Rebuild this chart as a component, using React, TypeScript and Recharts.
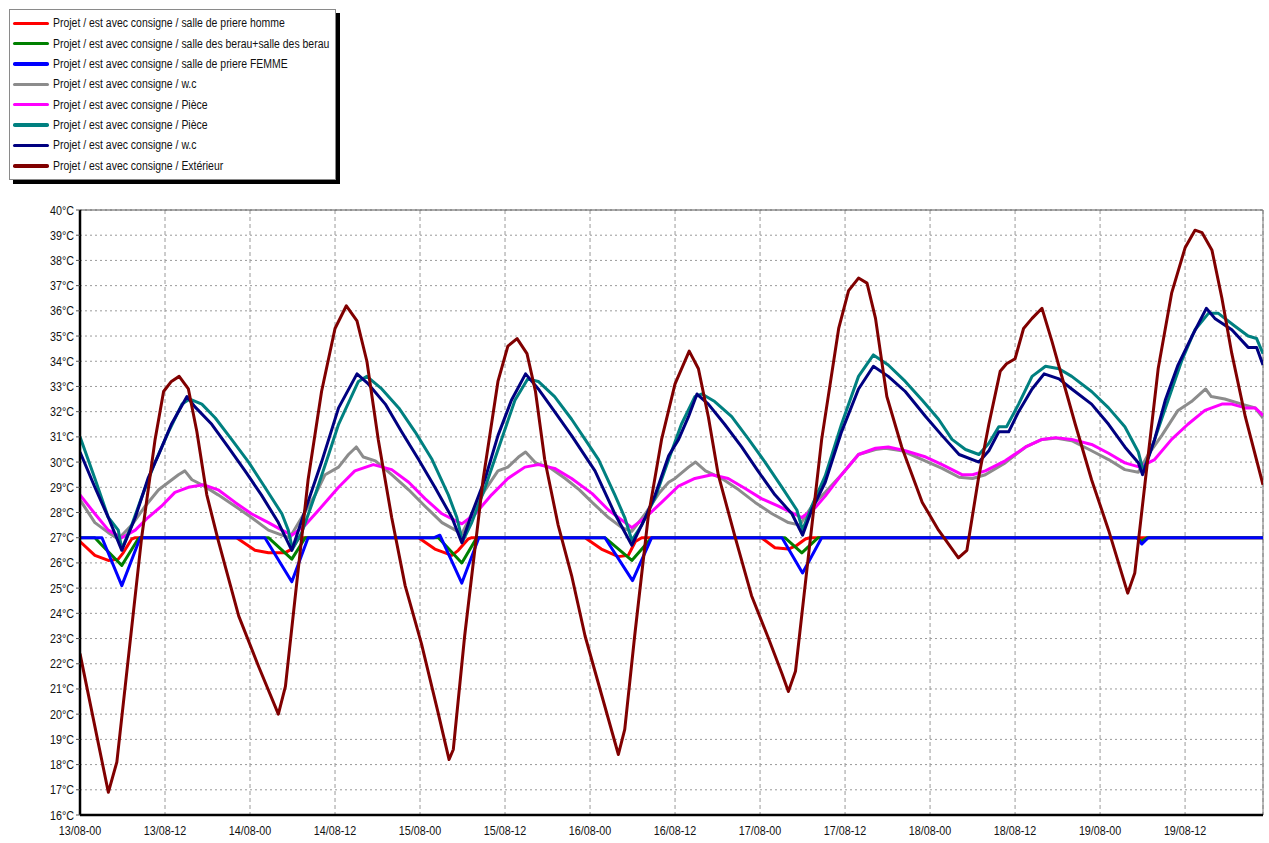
import React from "react";
import { LineChart, Line, XAxis, YAxis, CartesianGrid, ReferenceLine, Legend } from "recharts";

type Pt = [number, number];

// hours since 13/08 00:00 -> temperature (°C)
const priereHomme: Pt[] = [[0,26.85],[2.1,26.3],[4.0,26.1],[5.4,26.15],[6.1,26.4],[7.3,26.95],[7.8,27],[22.1,27],[24.7,26.5],[26.6,26.4],[28.9,26.4],[29.9,26.55],[30.8,26.95],[31.3,27],[47.8,27],[50.1,26.55],[52.5,26.3],[53.4,26.5],[54.8,26.95],[55.3,27],[71.3,27],[73.6,26.55],[76.0,26.25],[77.4,26.3],[78.4,26.85],[79.3,27],[96.2,27],[98.1,26.6],[100.0,26.55],[101.2,26.7],[102.4,26.95],[103,27],[167,27]];
const salleBerau: Pt[] = [[0,27],[2.1,27],[3.1,26.7],[5.9,25.9],[8.2,26.95],[8.5,27],[26.6,27],[29.9,26.15],[31.8,27],[50.6,27],[53.9,26.0],[56.0,27],[74.1,27],[77.9,26.1],[80.7,27],[99.5,27],[101.9,26.4],[104.2,27],[149.2,27],[149.8,26.85],[150.6,27],[167,27]];
const priereFemme: Pt[] = [[0,27],[3.1,27],[5.9,25.1],[8.5,27],[26.1,27],[29.9,25.25],[32.2,27],[50.0,27],[50.8,27.1],[53.9,25.2],[56.3,27],[74.1,27],[78.0,25.3],[80.7,27],[99.1,27],[102.0,25.6],[104.7,27],[149.2,27],[149.9,26.75],[150.8,27],[167,27]];
const wc1: Pt[] = [[0,28.5],[2.1,27.6],[4.0,27.2],[5.4,26.95],[7.3,27.5],[9.2,28.25],[11.1,28.9],[12.5,29.2],[13.9,29.5],[14.8,29.65],[15.8,29.3],[17.2,29.1],[19.5,28.7],[21.9,28.25],[24.2,27.8],[26.6,27.3],[28.5,27.1],[29.6,27.0],[31.3,27.8],[33.2,28.7],[34.6,29.5],[36.5,29.8],[37.9,30.3],[39.0,30.6],[40.0,30.2],[41.7,30.05],[44.0,29.5],[46.4,28.9],[48.7,28.25],[51.1,27.6],[53.0,27.3],[53.9,27.15],[55.3,27.95],[57.2,28.9],[59.0,29.65],[60.4,29.8],[61.9,30.2],[62.9,30.4],[64.3,29.97],[66.2,29.8],[68.5,29.35],[70.5,28.9],[72.3,28.4],[74.6,27.8],[76.5,27.4],[77.9,27.25],[79.8,27.95],[81.7,28.75],[83.1,29.2],[84.0,29.35],[85.9,29.8],[86.9,30.0],[88.3,29.65],[90.6,29.35],[93.0,28.9],[95.3,28.4],[97.7,27.95],[100.0,27.6],[101.6,27.5],[103.3,28.25],[105.2,28.8],[107.5,29.5],[109.9,30.3],[112.3,30.5],[113.7,30.55],[116.0,30.45],[118.9,30.1],[121.7,29.75],[124.1,29.4],[126.0,29.35],[127.8,29.5],[130.6,29.97],[133.5,30.6],[135.8,30.9],[137.7,30.95],[140.0,30.85],[142.8,30.45],[145.2,30.1],[147.5,29.7],[149.4,29.6],[150.8,30.3],[152.7,31.05],[155.0,32.05],[156.9,32.4],[158.9,32.9],[159.7,32.6],[161.6,32.5],[164.0,32.3],[165.9,32.15],[167.0,31.75]];
const piece1: Pt[] = [[0,28.7],[2.1,27.95],[4.0,27.3],[5.9,27.0],[7.8,27.3],[9.6,27.8],[11.5,28.25],[13.4,28.8],[15.3,29.0],[17.4,29.1],[19.5,28.9],[21.9,28.4],[24.2,27.95],[26.6,27.6],[28.5,27.3],[29.9,27.1],[31.8,27.5],[33.7,28.1],[36.5,29.0],[38.8,29.65],[41.4,29.9],[44.0,29.7],[46.4,29.2],[48.7,28.55],[51.1,27.95],[53.9,27.55],[55.8,27.95],[58.1,28.7],[60.4,29.35],[62.8,29.8],[64.7,29.9],[67.0,29.75],[69.4,29.35],[72.3,28.75],[74.6,28.1],[77.9,27.4],[79.8,27.8],[82.1,28.4],[84.5,29.05],[86.8,29.35],[89.2,29.5],[91.5,29.35],[93.9,28.95],[96.2,28.55],[98.6,28.25],[101.9,27.8],[103.8,28.2],[105.2,28.65],[107.5,29.5],[109.9,30.3],[112.3,30.55],[114.1,30.6],[116.5,30.45],[119.4,30.2],[121.7,29.9],[124.5,29.5],[126.0,29.5],[127.8,29.65],[130.6,30.05],[133.5,30.6],[135.8,30.9],[137.7,30.97],[140.0,30.9],[142.8,30.7],[145.2,30.35],[147.5,29.97],[149.6,29.8],[151.7,30.1],[154.1,30.9],[156.4,31.5],[158.8,32.05],[161.2,32.3],[162.6,32.3],[164.5,32.15],[165.9,32.15],[167.0,31.85]];
const piece2: Pt[] = [[0,31.0],[2.1,29.35],[4.0,27.8],[5.4,27.3],[5.9,26.55],[7.3,27.5],[8.7,28.6],[10.6,30.0],[12.5,31.2],[14.4,32.3],[15.5,32.5],[17.2,32.3],[19.1,31.75],[21.4,30.9],[23.8,30.0],[26.1,29.0],[28.5,27.95],[29.4,27.3],[30.0,26.55],[31.3,27.2],[33.2,28.7],[35.1,30.3],[36.5,31.5],[39.3,33.2],[40.5,33.4],[42.6,32.9],[45.0,32.15],[47.3,31.2],[49.7,30.1],[52.0,28.7],[53.2,27.8],[54.0,26.85],[55.3,27.6],[57.2,29.0],[59.5,30.9],[61.4,32.45],[63.2,33.3],[64.7,33.2],[67.0,32.6],[69.4,31.7],[71.3,30.9],[73.2,30.1],[75.5,28.7],[76.9,27.8],[77.9,26.9],[79.3,27.5],[81.2,28.6],[83.1,30.1],[84.9,31.5],[86.8,32.6],[87.8,32.7],[89.6,32.4],[92.0,31.8],[94.4,30.9],[96.7,30.0],[99.1,29.0],[101.2,28.1],[102.0,27.3],[103.3,28.25],[105.2,29.45],[107.5,31.5],[109.9,33.4],[112.0,34.25],[114.1,33.85],[116.5,33.2],[118.9,32.45],[121.2,31.7],[123.1,30.9],[125.0,30.5],[126.9,30.3],[128.3,30.75],[129.7,31.4],[130.8,31.4],[132.5,32.3],[134.4,33.4],[136.3,33.8],[138.2,33.7],[140.0,33.4],[142.8,32.8],[145.2,32.15],[147.5,31.4],[149.4,30.4],[150.1,29.65],[151.7,30.9],[153.6,32.45],[155.5,34.0],[157.4,35.25],[159.3,35.9],[160.7,35.9],[163.0,35.4],[164.9,35.0],[166.1,34.9],[167.0,34.3]];
const wc2: Pt[] = [[0,30.4],[2.1,29.0],[4.0,27.8],[5.9,26.5],[7.8,27.8],[9.6,29.35],[11.1,30.3],[12.9,31.5],[15.1,32.6],[16.2,32.2],[18.6,31.5],[20.9,30.6],[23.3,29.65],[25.6,28.7],[28.0,27.6],[29.9,26.5],[31.8,28.1],[34.1,30.0],[36.5,32.15],[39.1,33.5],[40.7,33.1],[43.1,32.3],[45.4,31.2],[47.8,30.1],[50.1,29.0],[52.5,27.8],[53.9,26.8],[55.3,27.95],[57.2,29.35],[59.0,31.05],[60.9,32.45],[62.9,33.5],[64.7,32.9],[67.0,32.0],[69.4,31.05],[72.7,29.65],[75.5,27.95],[77.9,26.7],[79.8,27.8],[81.2,28.7],[83.1,30.25],[84.5,30.9],[85.9,31.8],[87.1,32.7],[88.7,32.3],[91.0,31.5],[93.4,30.6],[95.7,29.65],[98.1,28.7],[100.5,27.95],[102.0,27.1],[103.3,28.1],[105.2,29.2],[107.5,31.2],[109.9,32.9],[112.0,33.8],[114.1,33.4],[116.5,32.8],[119.4,31.8],[121.7,31.05],[124.1,30.3],[126.9,30.0],[128.3,30.45],[129.7,31.2],[131.1,31.2],[132.5,32.0],[134.4,32.9],[136.1,33.5],[138.2,33.3],[140.0,32.9],[142.8,32.3],[145.2,31.5],[147.5,30.6],[149.4,29.97],[150.0,29.5],[151.7,30.9],[153.2,32.45],[155.0,33.85],[156.9,34.95],[159.0,36.1],[160.2,35.7],[162.6,35.25],[164.9,34.55],[166.1,34.55],[167.0,33.85]];
const exterieur: Pt[] = [[0,22.4],[4.0,16.9],[5.2,18.1],[8.7,27.0],[10.6,30.9],[11.8,32.8],[12.9,33.2],[14.0,33.4],[15.3,32.9],[16.5,31.2],[17.9,28.7],[19.5,26.9],[22.4,23.9],[25.2,21.9],[28.0,20.0],[29.0,21.1],[30.4,24.7],[32.2,29.3],[34.1,32.8],[36.0,35.3],[37.6,36.2],[39.1,35.6],[40.5,34.0],[42.1,30.9],[44.0,27.8],[45.9,25.1],[48.2,22.8],[50.6,20.0],[52.1,18.2],[52.7,18.6],[54.3,23.1],[56.9,29.3],[59.0,33.2],[60.4,34.6],[61.7,34.9],[63.1,34.3],[64.3,32.8],[65.6,30.1],[67.5,27.5],[69.4,25.5],[71.3,23.1],[73.6,20.8],[76.0,18.4],[76.9,19.4],[78.3,23.1],[80.2,27.8],[82.1,30.9],[84.0,33.1],[86.0,34.4],[87.3,33.7],[88.7,31.8],[90.1,29.5],[92.5,27.0],[94.8,24.7],[97.2,23.0],[99.1,21.6],[100.0,20.9],[101.0,21.7],[102.8,26.2],[104.7,30.9],[107.1,35.3],[108.5,36.8],[109.9,37.3],[111.1,37.1],[112.3,35.7],[113.9,32.6],[116.0,30.6],[118.9,28.4],[121.2,27.3],[124.0,26.2],[125.2,26.5],[126.8,29.3],[128.3,31.5],[129.9,33.6],[130.8,33.9],[132.0,34.1],[133.2,35.3],[134.4,35.7],[135.8,36.1],[137.2,34.8],[139.1,32.9],[140.5,31.5],[142.8,29.3],[145.2,27.3],[147.9,24.8],[148.9,25.6],[150.4,29.3],[152.2,33.7],[154.1,36.7],[156.0,38.5],[157.4,39.2],[158.4,39.1],[159.8,38.4],[161.2,36.5],[162.6,34.3],[164.5,31.8],[167.0,29.1]];

const seriesNames = [
  "Projet / est avec consigne / salle de priere homme",
  "Projet / est avec consigne / salle des berau+salle des berau",
  "Projet / est avec consigne / salle de priere FEMME",
  "Projet / est avec consigne / w.c",
  "Projet / est avec consigne / Pièce",
  "Projet / est avec consigne / Pièce",
  "Projet / est avec consigne / w.c",
  "Projet / est avec consigne / Extérieur",
];
const seriesColors = ["#ff0000", "#008000", "#0000ff", "#8c8c8c", "#ff00ff", "#008080", "#000080", "#800000"];
const seriesData = [priereHomme, salleBerau, priereFemme, wc1, piece1, piece2, wc2, exterieur];

const xTicks = [0, 12, 24, 36, 48, 60, 72, 84, 96, 108, 120, 132, 144, 156];
const xTickLabels = ["13/08-00", "13/08-12", "14/08-00", "14/08-12", "15/08-00", "15/08-12", "16/08-00", "16/08-12", "17/08-00", "17/08-12", "18/08-00", "18/08-12", "19/08-00", "19/08-12"];
const yTicks = [16, 17, 18, 19, 20, 21, 22, 23, 24, 25, 26, 27, 28, 29, 30, 31, 32, 33, 34, 35, 36, 37, 38, 39, 40];
const yUnit = "°C";

const SQ = 0.86;

const YTick = (props: any) => {
  const { x, y, payload } = props;
  return (
    <text transform={`translate(${x} ${y}) scale(${SQ} 1)`} dy={4.5} textAnchor="end" fontSize={12.5} fill="#111">
      {`${payload.value}${yUnit}`}
    </text>
  );
};

const XTick = (props: any) => {
  const { x, y, payload } = props;
  const idx = xTicks.indexOf(payload.value);
  return (
    <text transform={`translate(${x} ${y}) scale(${SQ} 1)`} dy={12.5} textAnchor="middle" fontSize={12.5} fill="#111">
      {idx >= 0 ? xTickLabels[idx] : ""}
    </text>
  );
};

const LegendBox = () => (
  <div style={{ position: "relative", width: 325, height: 169, border: "1px solid #8a8a8a", background: "#fff", boxShadow: "4px 4px 0 #000" }}>
    {seriesNames.map((name, i) => (
      <div key={i} style={{ position: "absolute", left: 3, top: 6.3 + i * 20.35, height: 14, display: "flex", alignItems: "center", whiteSpace: "nowrap" }}>
        <span style={{ display: "inline-block", width: 36, height: 3.5, background: seriesColors[i], borderRadius: 1.75 }} />
        <span style={{ display: "inline-block", marginLeft: 4, fontSize: 12.3, color: "#111", transform: `scaleX(0.85)`, transformOrigin: "left center" }}>{name}</span>
      </div>
    ))}
  </div>
);

export default function App() {
  return (
    <div style={{ position: "absolute", left: 0, top: 0, width: 1269, height: 843, background: "#fff", fontFamily: "'Liberation Sans', Arial, sans-serif" }}>
      <LineChart width={1269} height={843} margin={{ top: 210, right: 6, bottom: 0, left: 0 }}>
        <CartesianGrid horizontal vertical={false} stroke="#9a9a9a" strokeDasharray="2 3" />
        <CartesianGrid horizontal={false} vertical stroke="#9a9a9a" strokeDasharray="4 3" />
        <XAxis
          type="number"
          dataKey="h"
          domain={[0, 167]}
          ticks={xTicks}
          interval={0}
          allowDataOverflow
          height={28}
          tickSize={6}
          tickMargin={2}
          tickLine={false}
          axisLine={{ stroke: "#000", strokeWidth: 2.5 }}
          tick={<XTick />}
        />
        <YAxis
          type="number"
          domain={[16, 40]}
          ticks={yTicks}
          interval={0}
          allowDataOverflow
          width={80}
          tickSize={4}
          tickMargin={2}
          tickLine={{ stroke: "#555" }}
          axisLine={{ stroke: "#000", strokeWidth: 2.5 }}
          tick={<YTick />}
        />
        <ReferenceLine y={40} stroke="#555" strokeWidth={1} />
        <ReferenceLine x={167} stroke="#777" strokeWidth={1} />
        {seriesData.map((pts, i) => (
          <Line
            key={i}
            data={pts.map(([h, t]) => ({ h, t }))}
            dataKey="t"
            name={seriesNames[i]}
            type="linear"
            stroke={seriesColors[i]}
            strokeWidth={3}
            strokeLinejoin="round"
            dot={false}
            activeDot={false}
            isAnimationActive={false}
          />
        ))}
        <Legend
          layout="horizontal"
          align="center"
          verticalAlign="middle"
          wrapperStyle={{ left: 9, top: 9, width: 340, height: 180 }}
          content={() => <LegendBox />}
        />
      </LineChart>
    </div>
  );
}
